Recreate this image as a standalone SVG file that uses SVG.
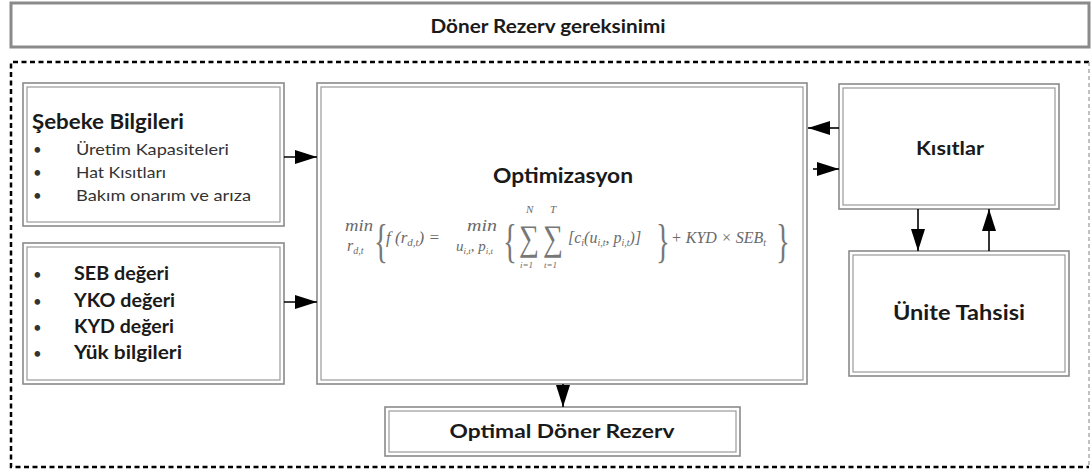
<svg xmlns="http://www.w3.org/2000/svg" width="1092" height="472" viewBox="0 0 1092 472">
<defs>
<style>
.o{fill:#fff;stroke:#8a8a8a;stroke-width:1.6}
.i{fill:none;stroke:#9a9a9a;stroke-width:1.2}
.t{font-family:Lato,"Open Sans","Liberation Sans",sans-serif;fill:#1a1a1a}
.b{font-weight:bold}
.n{font-size:15px;fill:#333}
.m{font-family:"Liberation Serif","DejaVu Serif",serif;font-style:italic;fill:#6a6a6a}
.br{font-family:"Liberation Serif","DejaVu Serif",serif;fill:#777}
.c{stroke:#000;stroke-width:1.6;fill:none;marker-end:url(#ah)}
.d{stroke:#000;stroke-width:2.5;stroke-dasharray:5 3.5;fill:none}
</style>
<marker id="ah" viewBox="0 0 22 14" refX="22" refY="7" markerWidth="22" markerHeight="14" markerUnits="userSpaceOnUse" orient="auto">
<path d="M0,0 L22,7 L0,14 Z" fill="#000"/>
</marker>
</defs>
<rect width="1092" height="472" fill="#fff"/>

<g id="title">
<rect x="11" y="3" width="1078" height="44" fill="#fff" stroke="#8a8a8a" stroke-width="3"/>
<text class="t b" x="548" y="33" font-size="19" text-anchor="middle" textLength="235" lengthAdjust="spacingAndGlyphs">Döner Rezerv gereksinimi</text>
</g>

<g id="frame">
<path class="d" d="M1089,62 H11 V467 H1089"/>
<line x1="1089" y1="62" x2="1089" y2="467" stroke="#999" stroke-width="1.2" stroke-dasharray="4 3"/>
</g>

<g id="sebeke">
<rect class="o" x="23" y="83" width="261" height="143"/>
<rect class="i" x="27" y="87" width="253" height="135"/>
<text class="t b" x="32" y="129" font-size="20" textLength="152" lengthAdjust="spacingAndGlyphs">Şebeke Bilgileri</text>
<text class="t n" x="33" y="155">•</text><text class="t n" x="76" y="155" textLength="153" lengthAdjust="spacingAndGlyphs">Üretim Kapasiteleri</text>
<text class="t n" x="33" y="178">•</text><text class="t n" x="76" y="178" textLength="90" lengthAdjust="spacingAndGlyphs">Hat Kısıtları</text>
<text class="t n" x="33" y="201">•</text><text class="t n" x="76" y="201" textLength="175" lengthAdjust="spacingAndGlyphs">Bakım onarım ve arıza</text>
</g>

<g id="degerler">
<rect class="o" x="23" y="243" width="261" height="141"/>
<rect class="i" x="27" y="247" width="253" height="133"/>
<text class="t n" x="33" y="280">•</text><text class="t b" x="74" y="280" font-size="18.5" textLength="95" lengthAdjust="spacingAndGlyphs">SEB değeri</text>
<text class="t n" x="33" y="307">•</text><text class="t b" x="74" y="307" font-size="18.5" textLength="101" lengthAdjust="spacingAndGlyphs">YKO değeri</text>
<text class="t n" x="33" y="333">•</text><text class="t b" x="74" y="333" font-size="18.5" textLength="100" lengthAdjust="spacingAndGlyphs">KYD değeri</text>
<text class="t n" x="33" y="359">•</text><text class="t b" x="74" y="359" font-size="18.5" textLength="108" lengthAdjust="spacingAndGlyphs">Yük bilgileri</text>
</g>

<g id="optimizasyon">
<rect class="o" x="317" y="83" width="490" height="301"/>
<rect class="i" x="321" y="87" width="482" height="293"/>
<text class="t b" x="563" y="183" font-size="21" text-anchor="middle" textLength="140" lengthAdjust="spacingAndGlyphs">Optimizasyon</text>
<g id="formula">
<text class="m" x="345" y="231" font-size="16" textLength="28" lengthAdjust="spacingAndGlyphs">min</text>
<text class="m" x="347" y="251" font-size="16">r<tspan font-size="10" dy="3">d,t</tspan></text>
<text class="br" transform="translate(374,257) scale(0.9,1.45)" font-size="32">{</text>
<text class="m" x="386" y="243" font-size="17">f (r<tspan font-size="11" dy="3">d,t</tspan><tspan dy="-3">) =</tspan></text>
<text class="m" x="467" y="231" font-size="16" textLength="30" lengthAdjust="spacingAndGlyphs">min</text>
<text class="m" x="456" y="251" font-size="15">u<tspan font-size="9" dy="3">i,t</tspan><tspan dy="-3">, p</tspan><tspan font-size="9" dy="3">i,t</tspan></text>
<text class="br" transform="translate(503,257) scale(0.9,1.45)" font-size="32">{</text>
<text class="m" x="526" y="213" font-size="11">N</text>
<text class="br" transform="translate(519,250) scale(0.78,1)" font-size="36">∑</text>
<text class="m" x="520" y="268" font-size="9">i=1</text>
<text class="m" x="550" y="213" font-size="11">T</text>
<text class="br" transform="translate(543,250) scale(0.78,1)" font-size="36">∑</text>
<text class="m" x="544" y="268" font-size="9">t=1</text>
<text class="m" x="568" y="243" font-size="16">[c<tspan font-size="10" dy="3">i</tspan><tspan dy="-3">(u</tspan><tspan font-size="10" dy="3">i,t</tspan><tspan dy="-3">, p</tspan><tspan font-size="10" dy="3">i,t</tspan><tspan dy="-3">)]</tspan></text>
<text class="br" transform="translate(656,257) scale(0.9,1.45)" font-size="32">}</text>
<text class="m" x="671" y="243" font-size="16">+ KYD × SEB<tspan font-size="10" dy="3">t</tspan></text>
<text class="br" transform="translate(776,257) scale(0.9,1.45)" font-size="32">}</text>
</g>
</g>

<g id="kisitlar">
<rect class="o" x="839" y="84" width="220" height="125"/>
<rect class="i" x="843" y="88" width="212" height="117"/>
<text class="t b" x="950" y="155" font-size="19" text-anchor="middle" textLength="68" lengthAdjust="spacingAndGlyphs">Kısıtlar</text>
</g>

<g id="unite">
<rect class="o" x="849" y="251" width="220" height="125"/>
<rect class="i" x="853" y="255" width="212" height="117"/>
<text class="t b" x="959" y="320" font-size="20" text-anchor="middle" textLength="132" lengthAdjust="spacingAndGlyphs">Ünite Tahsisi</text>
</g>

<g id="optimal">
<rect class="o" x="385" y="407" width="355" height="49"/>
<rect class="i" x="389" y="411" width="347" height="41"/>
<text class="t b" x="562" y="438" font-size="19" text-anchor="middle" textLength="225" lengthAdjust="spacingAndGlyphs">Optimal Döner Rezerv</text>
</g>

<g id="connectors">
<line class="c" x1="284" y1="157" x2="317" y2="157"/>
<line class="c" x1="284" y1="302" x2="317" y2="302"/>
<line class="c" x1="839" y1="128" x2="808" y2="128"/>
<line class="c" x1="813" y1="169" x2="839" y2="169"/>
<line class="c" x1="918" y1="209" x2="918" y2="251"/>
<line class="c" x1="989" y1="251" x2="989" y2="209"/>
<line class="c" x1="563" y1="384" x2="563" y2="407"/>
</g>
</svg>
